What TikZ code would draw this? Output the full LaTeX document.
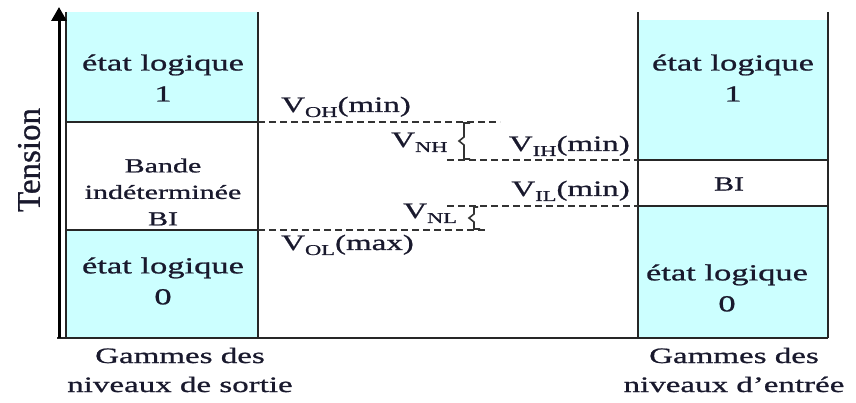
\documentclass[tikz,border=0pt]{standalone}
\usepackage{fontspec}
\setmainfont{Liberation Serif}[FakeStretch=1.5,FakeBold=0.9]
\newfontfamily\plainserif{Liberation Serif}[FakeBold=0.9]
\usetikzlibrary{arrows.meta}
\definecolor{cyfill}{RGB}{204,255,255}
\definecolor{ink}{RGB}{25,25,45}
\newcommand\sbs[1]{\raisebox{-5pt}{\fontsize{15}{15}\selectfont #1}}
\begin{document}
\begin{tikzpicture}[x=1pt,y=-1pt,
  boxline/.style={draw=black!85,line width=1.6pt},
  dashln/.style={draw=black!80,line width=1.3pt,dash pattern=on 7pt off 4pt},
  bigtxt/.style={text=ink,align=center,inner sep=0pt,font=\fontsize{23}{31}\selectfont},
  midtxt/.style={text=ink,align=center,inner sep=0pt,font=\fontsize{20}{26.5}\selectfont},
  vtxt/.style={text=ink,inner sep=0pt,font=\fontsize{22}{22}\selectfont},
  brc/.style={draw=black!80,line width=1.6pt}]
\useasboundingbox (0,0) rectangle (856,403);
% fills
\fill[cyfill] (66,12) rectangle (258,122);
\fill[cyfill] (66,230) rectangle (258,338);
\fill[cyfill] (638,20) rectangle (828,160);
\fill[cyfill] (638,206) rectangle (828,338);
% coordinates
\coordinate (LTL) at (66,12);   \coordinate (LBL) at (66,338);
\coordinate (LTR) at (258,12);  \coordinate (LBR) at (258,338);
\coordinate (RTL) at (638,12);  \coordinate (RBL) at (638,338);
\coordinate (RTR) at (828,12);  \coordinate (RBR) at (828,338);
\coordinate (OHl) at (66,122);  \coordinate (OHr) at (258,122);
\coordinate (OLl) at (66,230);  \coordinate (OLr) at (258,230);
\coordinate (IHl) at (638,160); \coordinate (IHr) at (828,160);
\coordinate (ILl) at (638,206); \coordinate (ILr) at (828,206);
\coordinate (OHe) at (500,122); \coordinate (OLe) at (488,230);
\coordinate (IHs) at (447,160); \coordinate (ILs) at (447,206);
\coordinate (ax0) at (59,338);  \coordinate (ax1) at (59,7);
\coordinate (bot0) at (57,338);
% box lines
\draw[boxline] (LTL) -- (LBL);
\draw[boxline] (LTR) -- (LBR);
\draw[boxline] (RTL) -- (RBL);
\draw[boxline] (RTR) -- (RBR);
\draw[boxline] (OHl) -- (OHr);
\draw[boxline] (OLl) -- (OLr);
\draw[boxline] (IHl) -- (IHr);
\draw[boxline] (ILl) -- (ILr);
\draw[boxline,line width=2pt] (bot0) -- (RBR);
% axis
\draw[line width=3pt,-{Triangle[width=15pt,length=14pt]}] (ax0) -- (ax1);
% dashed
\draw[dashln] (OHr) -- (OHe);
\draw[dashln] (OLr) -- (OLe);
\draw[dashln] (IHs) -- (IHl);
\draw[dashln] (ILs) -- (ILl);
% braces
\draw[brc] (470,123) -- (464,123) -- (464,137) -- (459,141) -- (464,145) -- (464,159) -- (470,159);
\draw[brc] (478,207) -- (474,207) -- (474,214) -- (469,218) -- (474,222) -- (474,229) -- (480,229);
% texts
\node[bigtxt] (l1) at (163,78) {état logique\\1};
\node[midtxt] (lbi) at (163,192) {Bande\\indéterminée\\BI};
\node[bigtxt] (l0) at (163,281) {état logique\\0};
\node[bigtxt] (r1) at (733,78) {état logique\\1};
\node[midtxt] (rbi) at (729,184) {BI};
\node[bigtxt] (r0) at (727,288) {état logique\\0};
\node[bigtxt,font=\fontsize{22}{29}\selectfont] (gl) at (180,370) {Gammes des\\niveaux de sortie};
\node[bigtxt,font=\fontsize{22}{29}\selectfont] (gr) at (734,370) {Gammes des\\niveaux d’entrée};
\node[text=ink,rotate=90,inner sep=0pt,font=\plainserif\fontsize{33}{33}\selectfont] (ten) at (29,160) {Tension};
\node[vtxt,anchor=base west] (voh) at (281,112) {V\sbs{OH}(min)};
\node[vtxt,anchor=base west] (vnh) at (391,147) {V\sbs{NH}};
\node[vtxt,anchor=base east] (vih) at (630,151) {V\sbs{IH}(min)};
\node[vtxt,anchor=base east] (vil) at (630,196) {V\sbs{IL}(min)};
\node[vtxt,anchor=base west] (vnl) at (403,218) {V\sbs{NL}};
\node[vtxt,anchor=base west] (vol) at (281,250) {V\sbs{OL}(max)};
\end{tikzpicture}
\end{document}
